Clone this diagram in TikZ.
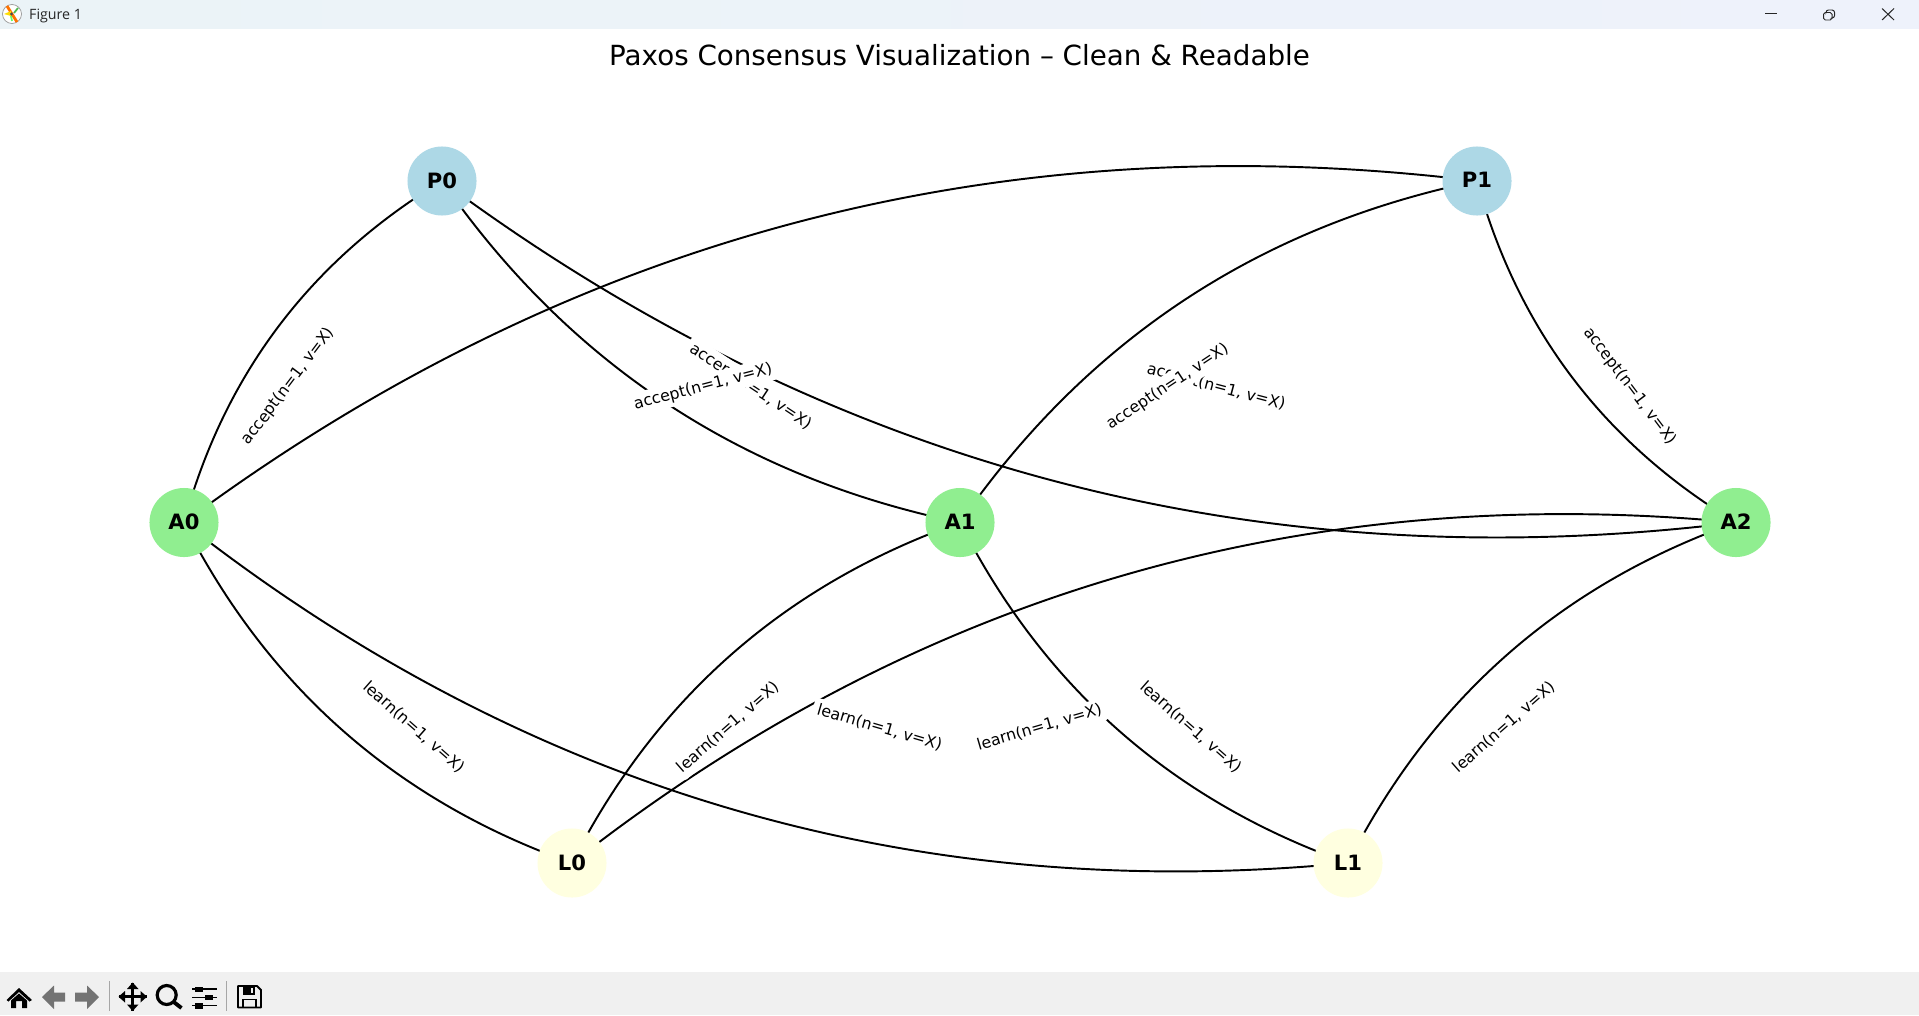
\documentclass[tikz,border=0pt]{standalone}
\usepackage{fontspec}
\setmainfont{DejaVu Sans}
\newfontfamily\uifont{Open Sans}
\usetikzlibrary{calc}
\pgfdeclarelayer{baselayer}
\pgfdeclarelayer{edgelayer}
\pgfsetlayers{baselayer,edgelayer,main}
\definecolor{propcol}{HTML}{ADD8E6}
\definecolor{acccol}{HTML}{90EE90}
\definecolor{lrncol}{HTML}{FFFFE0}
\definecolor{barL}{HTML}{EBF3F7}
\definecolor{barR}{HTML}{EEF2FB}
\definecolor{toolcol}{HTML}{F0F0F0}
\tikzset{
  x=0.01cm, y=-0.01cm,
  paxnode/.style={circle, minimum size=0.69cm, inner sep=0pt, outer sep=0pt, font=\fontsize{6.0}{7}\selectfont\bfseries, text=black},
  proposer/.style={paxnode, fill=propcol},
  acceptor/.style={paxnode, fill=acccol},
  learner/.style={paxnode, fill=lrncol},
  edgeline/.style={draw=black, line width=0.55pt},
  msg/.style={fill=white, rounded corners=1.2pt, inner xsep=1.35pt, inner ysep=1.1pt, text height=3.5pt, text depth=0.9pt, anchor=base, font=\fontsize{4.5}{5}\selectfont, text=black},
  sep/.style={draw=black!35, line width=0.3pt},
  icon/.style={fill=black, draw=none},
  iconline/.style={draw=black, line width=0.75pt},
  gicon/.style={fill=black!55, draw=none},
  winbtn/.style={draw=black!85, line width=0.28pt}
}
\newcommand{\curvedge}[2]{%
  \coordinate (mm) at ($(#1)!0.5!(#2)$);
  \coordinate (cc) at ($(mm)!0.4!-90:(#2)$);
  \begin{pgfonlayer}{edgelayer}
  \draw[edgeline] (#1.center) .. controls ($(#1)!0.6667!(cc)$) and ($(#2)!0.6667!(cc)$) .. (#2.center);
  \end{pgfonlayer}
}
% name, angle, x, y, text: the baseline runs just below the given point, along the text's own normal
\newcommand{\msglabel}[5]{%
  \node[msg, rotate=#2] (#1) at ($(#3,#4)+(#2-90:1.85pt)$) {#5};
}
\newcommand{\nodetext}[1]{\raisebox{0.4pt}{#1}}
\begin{document}
\begin{tikzpicture}
\useasboundingbox (0,0) rectangle (1919,1015);
\begin{pgfonlayer}{baselayer}
\fill[white] (0,0) rectangle (1919,1015);
\end{pgfonlayer}
% window chrome
\shade[left color=barL, right color=barR] (0,0) rectangle (1919,28.5);
\fill[toolcol] (0,972) rectangle (1919,1015);
% app icon
\fill[white] (12,14) circle (9.5);
\draw[black!40, line width=0.2pt] (12,14) circle (9.5);
\draw[orange!90!red, line width=0.8pt] (7,6) -- (17,22);
\fill[yellow!80!orange] (4,14) -- (11,11) -- (11,16) -- cycle;
\draw[green!60!black!70, line width=0.5pt] (14,13) -- (18,8);
\draw[green!60, line width=0.5pt] (11,16) -- (12,21);
\fill[black!70] (11.5,14) circle (1.6);
\node[anchor=west, inner sep=0pt, font=\uifont\fontsize{4.05}{5}\selectfont, text=black!85] (figtitle) at (28.5,15.5) {Figure 1};
% window buttons
\draw[winbtn] (1765,13.7) -- (1777,13.7);
\draw[winbtn, rounded corners=0.5pt] (1823.5,12.5) rectangle (1832,20);
\draw[winbtn, rounded corners=0.7pt] (1826,12) -- (1826,10) -- (1834.5,10) -- (1834.5,18) -- (1832.5,18);
\draw[winbtn] (1882,8.5) -- (1894,20) (1894,8.5) -- (1882,20);
% toolbar icons
\fill[icon] (19,988) -- (32,1000) -- (29.5,1001.5) -- (19,992) -- (8.5,1001.5) -- (6.5,1000) -- cycle;
\fill[icon] (19,993.5) -- (27,1000.5) -- (27,1008) -- (22,1008) -- (22,1001) -- (16,1001) -- (16,1008) -- (11,1008) -- (11,1000.5) -- cycle;
\fill[gicon] (42,997) -- (54,985.5) -- (54,992.5) -- (65,992.5) -- (65,1001.5) -- (54,1001.5) -- (54,1009) -- cycle;
\fill[gicon] (99,997) -- (87,985.5) -- (87,992.5) -- (75,992.5) -- (75,1001.5) -- (87,1001.5) -- (87,1009) -- cycle;
\draw[sep] (109.3,981) -- (109.3,1011);
\draw[iconline] (119,996.7) -- (146.5,996.7) (132.7,983) -- (132.7,1010.5);
\fill[icon] (118.5,996.7) -- (125,991) -- (125,1002.5) -- cycle;
\fill[icon] (147,996.7) -- (140.5,991) -- (140.5,1002.5) -- cycle;
\fill[icon] (132.7,982.5) -- (127,989) -- (138.5,989) -- cycle;
\fill[icon] (132.7,1011) -- (127,1004.5) -- (138.5,1004.5) -- cycle;
\draw[draw=black, line width=0.9pt] (166.7,995) circle (9.5);
\draw[draw=black, line width=1.1pt] (173.5,1001.8) -- (181.5,1008);
\draw[iconline, line width=0.4pt] (192,989) -- (217,989) (192,997.3) -- (217,997.3) (192,1005.7) -- (217,1005.7);
\fill[icon] (195,986.5) rectangle (203,991.5);
\fill[icon] (204.5,994.5) rectangle (212.5,1000);
\fill[icon] (195,1003) rectangle (203,1008.5);
\draw[sep] (226.7,981) -- (226.7,1011);
\draw[draw=black, line width=0.55pt, line join=round] (238,986) -- (257,986) -- (261,990) -- (261,1007.5) -- (238,1007.5) -- cycle;
\fill[icon] (243,986) rectangle (255,995);
\fill[toolcol] (250.5,987.5) rectangle (253,993);
\draw[draw=black, line width=0.5pt] (243,1007.5) -- (243,999.5) -- (256,999.5) -- (256,1007.5);
% title
\node[font=\fontsize{7.89}{9}\selectfont, text=black, inner sep=0pt] (title) at (959.5,55) {Paxos Consensus Visualization – Clean \& Readable};
% graph nodes
\node[proposer] (P0) at (442,181) {\nodetext{P0}};
\node[proposer] (P1) at (1477,181) {\nodetext{P1}};
\node[acceptor] (A0) at (184,522.5) {\nodetext{A0}};
\node[acceptor] (A1) at (960,522.5) {\nodetext{A1}};
\node[acceptor] (A2) at (1736,522.5) {\nodetext{A2}};
\node[learner] (L0) at (572,863) {\nodetext{L0}};
\node[learner] (L1) at (1348,863) {\nodetext{L1}};
% edges
\curvedge{P0}{A0}
\curvedge{P0}{A1}
\curvedge{P0}{A2}
\curvedge{P1}{A0}
\curvedge{P1}{A1}
\curvedge{P1}{A2}
\curvedge{A0}{L0}
\curvedge{A0}{L1}
\curvedge{A1}{L0}
\curvedge{A1}{L1}
\curvedge{A2}{L0}
\curvedge{A2}{L1}
% labels
\msglabel{e1}{52.9}{286.4}{385}{accept(n=1, v=X)}
\msglabel{e2}{-33.4}{751.5}{385}{accept(n=1, v=X)}
\msglabel{e3}{14.8}{702.5}{385}{accept(n=1, v=X)}
\msglabel{e4}{-14.8}{1216.6}{385}{accept(n=1, v=X)}
\msglabel{e5}{33.4}{1166.4}{385}{accept(n=1, v=X)}
\msglabel{e6}{-52.9}{1631.5}{385}{accept(n=1, v=X)}
\msglabel{e7}{-41.3}{415}{726}{learn(n=1, v=X)}
\msglabel{e8}{-16.3}{880}{726}{learn(n=1, v=X)}
\msglabel{e9}{41.3}{727}{726}{learn(n=1, v=X)}
\msglabel{e10}{-41.3}{1192}{726}{learn(n=1, v=X)}
\msglabel{e11}{16.3}{1039}{726}{learn(n=1, v=X)}
\msglabel{e12}{41.3}{1503}{726}{learn(n=1, v=X)}
\end{tikzpicture}
\end{document}
